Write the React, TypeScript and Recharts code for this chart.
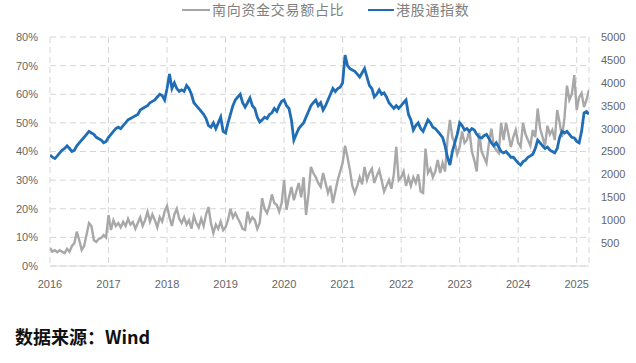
import React from "react";
import { LineChart, Line, XAxis, YAxis, CartesianGrid } from "recharts";

// Half-monthly observations starting January 2016
const START_YEAR = 2016;
const STEPS_PER_YEAR = 24;

const yearTicks = [2016, 2017, 2018, 2019, 2020, 2021, 2022, 2023, 2024, 2025];
const shareTicks = [0, 10, 20, 30, 40, 50, 60, 70, 80];
const indexTicks = [500, 1000, 1500, 2000, 2500, 3000, 3500, 4000, 4500, 5000];

// 南向资金交易额占比 (%)
const southboundShare = [
  6.3, 5, 5.5, 4.8, 5.5, 5, 4.5, 6, 5, 7, 8, 12, 9, 5.6, 7, 11, 15, 14, 9, 8.4, 9.5, 9.8, 10.8, 10,
  17.8, 12.6, 16, 14, 15, 13.5, 15.4, 14, 16.5, 14.5, 15.4, 13, 15, 17, 14, 16, 19, 15.5, 18, 16, 13.5, 17, 15.5, 19,
  21, 17, 14, 18, 20, 16.5, 15, 17, 14.5, 16, 13, 17.5, 15, 13.5, 16.5, 14, 18, 20.6, 15, 11.5, 14.5, 13, 15.5, 12.5,
  13.6, 16, 20, 17, 18.5, 16.7, 15, 13, 12.6, 19, 15.4, 17, 16, 13, 15, 23.7, 20, 18.5, 21, 25, 22, 21.3, 19, 22,
  30, 19.6, 24, 27.6, 23, 26, 29, 24, 31, 17.8, 25, 34.6, 32.5, 31, 29, 27.6, 32.5, 29, 25.5, 28, 22, 26, 30, 33,
  36, 42, 38, 33.5, 28, 25.5, 28, 31, 28.5, 34.6, 30, 32.5, 34, 29, 31.5, 33.5, 30, 26, 28, 30, 27, 32, 41.6, 30,
  31, 33, 28, 31, 28, 31, 29, 32, 26, 25.5, 41, 32.5, 34, 31, 33, 37, 32.5, 36, 33, 44, 51, 45, 43, 39,
  41.6, 47, 43, 44, 47.5, 40, 37, 33, 46.5, 40, 38, 36, 43, 48, 42, 40.5, 39.5, 50, 44, 50, 46, 41.6, 45, 47.5,
  43, 41.6, 50, 46, 44, 42, 47.5, 45, 55, 48, 45, 42, 49, 46, 47.5, 44, 54.5, 50, 45, 52, 63, 58, 60, 66.7,
  54.5, 59, 60.4, 55.5, 58, 61.5,
];

// 港股通指数
const hkConnectIndex = [
  2425, 2375, 2345, 2405, 2470, 2530, 2565, 2625, 2565, 2500, 2530, 2625, 2690, 2750, 2810, 2875, 2940, 2905, 2875, 2810, 2780, 2750, 2690, 2720,
  2810, 2875, 2940, 3000, 3030, 3000, 3065, 3125, 3190, 3220, 3250, 3280, 3310, 3405, 3440, 3470, 3500, 3565, 3595, 3625, 3690, 3750, 3720, 3625,
  3875, 4190, 3875, 4000, 3875, 3810, 3845, 3810, 3940, 3875, 3750, 3565, 3500, 3440, 3375, 3310, 3220, 3065, 3030, 3125, 3000, 3125, 3250, 2940,
  2905, 3125, 3310, 3500, 3625, 3690, 3750, 3565, 3470, 3565, 3670, 3500, 3440, 3250, 3145, 3190, 3250, 3220, 3310, 3345, 3440, 3375, 3500, 3595,
  3625, 3500, 3440, 3190, 2750, 2875, 3000, 3065, 3125, 3250, 3375, 3500, 3565, 3625, 3500, 3565, 3405, 3500, 3625, 3750, 3875, 3810, 3875, 3905,
  4000, 4605, 4375, 4310, 4280, 4250, 4190, 4125, 4220, 4310, 4125, 3940, 3875, 3690, 3750, 3845, 3750, 3780, 3690, 3565, 3500, 3440, 3500, 3440,
  3500, 3565, 3625, 3310, 3190, 2970, 3065, 3125, 3000, 2940, 3065, 3190, 3125, 3030, 3000, 2940, 2875, 2810, 2625, 2375, 2205, 2500, 2690, 2875,
  3125, 3065, 2970, 3000, 2940, 3000, 2970, 2875, 2810, 2795, 2845, 2875, 2780, 2690, 2625, 2690, 2595, 2500, 2470, 2500, 2440, 2375, 2375, 2310,
  2250, 2205, 2280, 2310, 2375, 2405, 2440, 2565, 2750, 2690, 2625, 2565, 2595, 2530, 2500, 2470, 2565, 2810, 2940, 2905, 2940, 2875, 2810, 2795,
  2720, 2690, 2940, 3345, 3375, 3310,
];

const data = southboundShare.map((share, i) => ({
  t: START_YEAR + i / STEPS_PER_YEAR,
  share,
  index: hkConnectIndex[i],
}));

const tickStyle = { fill: "#666666", fontSize: 11, fontFamily: "Liberation Sans, Arial, sans-serif" };

export default function App() {
  return (
    <div style={{ position: "absolute", left: 0, top: 0, width: 636, height: 363, background: "#ffffff", fontFamily: "Noto Sans CJK SC, sans-serif" }}>
      <div style={{ position: "absolute", top: 0, left: 0, width: 636, height: 20, fontSize: 14, color: "#7f7f7f", letterSpacing: 0.7 }}>
        <span style={{ position: "absolute", left: 182, top: 9, width: 28, height: 2, background: "#a6a6a6" }} />
        <span style={{ position: "absolute", left: 212, top: 0, lineHeight: "18px" }}>南向资金交易额占比</span>
        <span style={{ position: "absolute", left: 368, top: 9, width: 26, height: 2, background: "#1f6db4" }} />
        <span style={{ position: "absolute", left: 396, top: 0, lineHeight: "18px" }}>港股通指数</span>
      </div>
      <div style={{ position: "absolute", top: 0, left: 0 }}>
        <LineChart width={636} height={300} data={data} margin={{ top: 37, right: 0, bottom: 4, left: 0 }}>
          <CartesianGrid yAxisId="left" stroke="#d6d6d6" strokeDasharray="6 4" horizontal={true} vertical={true} />
          <XAxis
            dataKey="t"
            type="number"
            domain={[2016, 2025.21]}
            ticks={yearTicks}
            tickFormatter={(v: number) => String(Math.round(v))}
            tick={tickStyle}
            tickLine={false}
            tickSize={0}
            tickMargin={14}
            axisLine={{ stroke: "#d9d9d9" }}
            height={30}
            allowDataOverflow
          />
          <YAxis
            yAxisId="left"
            orientation="left"
            domain={[0, 80]}
            ticks={shareTicks}
            tickFormatter={(v: number) => `${v}%`}
            tick={tickStyle}
            tickLine={false}
            axisLine={false}
            tickSize={0}
            tickMargin={12}
            width={50}
          />
          <YAxis
            yAxisId="right"
            orientation="right"
            domain={[0, 5000]}
            ticks={indexTicks}
            tick={tickStyle}
            tickLine={false}
            axisLine={false}
            tickSize={0}
            tickMargin={12}
            width={47}
          />
          <Line yAxisId="left" dataKey="share" stroke="#a8a8a8" strokeWidth={2.4} dot={false} isAnimationActive={false} />
          <Line yAxisId="right" dataKey="index" stroke="#1f6db4" strokeWidth={2.8} dot={false} isAnimationActive={false} />
        </LineChart>
      </div>
      <div style={{ position: "absolute", left: 15, top: 322, fontSize: 18, fontWeight: 700, color: "#111111", lineHeight: "28px" }}>
        数据来源：Wind
      </div>
    </div>
  );
}
